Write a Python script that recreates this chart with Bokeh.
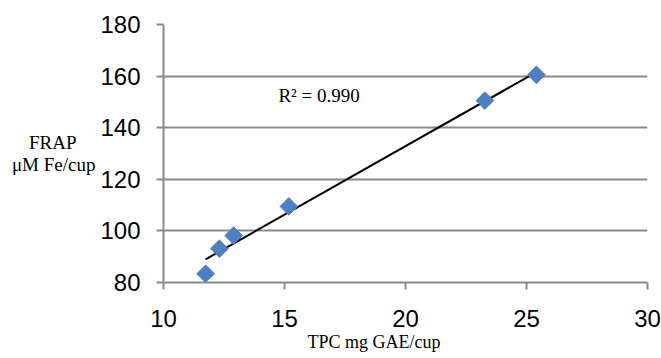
import numpy as np
from bokeh.plotting import figure
from bokeh.models import Range1d, FixedTicker, Label, Title
from bokeh.embed import file_html
from bokeh.resources import INLINE

# Data
tpc = [11.74, 12.31, 12.90, 15.18, 23.28, 25.41]      # TPC mg GAE/cup
frap = [83.4, 93.1, 98.2, 109.5, 150.5, 160.5]        # FRAP uM Fe/cup
x_ticks = [10, 15, 20, 25, 30]
y_ticks = [80, 100, 120, 140, 160, 180]
r2_text = "R² = 0.990"
x_title = "TPC mg GAE/cup"
y_title_lines = ["FRAP", "μM Fe/cup"]

GRID = "#8a8a8a"
BLUE = "#4f7fc0"
SERIF = "Liberation Serif"

p = figure(width=661, height=358, output_backend="svg", toolbar_location=None,
           x_range=Range1d(10, 30), y_range=Range1d(80, 180),
           min_border_left=163, min_border_right=14, min_border_top=24,
           min_border_bottom=76)
p.outline_line_color = None
p.background_fill_color = "white"
p.border_fill_color = "white"

p.xgrid.visible = False
p.ygrid.ticker = FixedTicker(ticks=y_ticks)
p.ygrid.grid_line_color = GRID
p.ygrid.grid_line_width = 2

for ax, ticks in ((p.xaxis[0], x_ticks), (p.yaxis[0], y_ticks)):
    ax.ticker = FixedTicker(ticks=ticks)
    ax.axis_line_color = GRID
    ax.axis_line_width = 2
    ax.major_tick_line_color = GRID
    ax.major_tick_line_width = 2
    ax.major_tick_out = 7
    ax.major_tick_in = 0
    ax.minor_tick_line_color = None
    ax.major_label_text_font = "Liberation Sans"
    ax.major_label_text_font_size = "24px"
    ax.major_label_text_color = "black"
p.xaxis[0].major_label_standoff = 20
p.yaxis[0].major_label_standoff = 16

# Two-line horizontal y title; the first line is padded with no-break
# spaces so that it sits centred above the second line.
yax = p.yaxis[0]
yax.axis_label = y_title_lines[0] + "\u00a0" * 4 + "\n" + y_title_lines[1]
yax.axis_label_orientation = "horizontal"
yax.axis_label_text_font = SERIF
yax.axis_label_text_font_size = "19px"
yax.axis_label_text_font_style = "normal"
yax.axis_label_text_color = "black"
yax.axis_label_text_line_height = 1.05
yax.axis_label_standoff = 2

p.add_layout(Title(text=x_title, align="left", offset=144, standoff=0,
                   text_font=SERIF, text_font_size="18px",
                   text_font_style="normal", text_color="black"), "below")

# Trend line (least squares fit of the data)
slope, intercept = np.polyfit(tpc, frap, 1)
xs = [min(tpc), max(tpc)]
ys = [slope * v + intercept for v in xs]
p.line(xs, ys, line_color="black", line_width=2)

# Diamonds
p.scatter(tpc, frap, marker="square", angle=np.pi / 4, size=12.5,
          fill_color=BLUE, line_color=BLUE)

p.add_layout(Label(x=14.75, y=152.5, text=r2_text, text_font=SERIF,
                   text_font_size="19px", text_color="black",
                   text_baseline="alphabetic"))

open("out.html", "w").write(file_html(p, INLINE))
